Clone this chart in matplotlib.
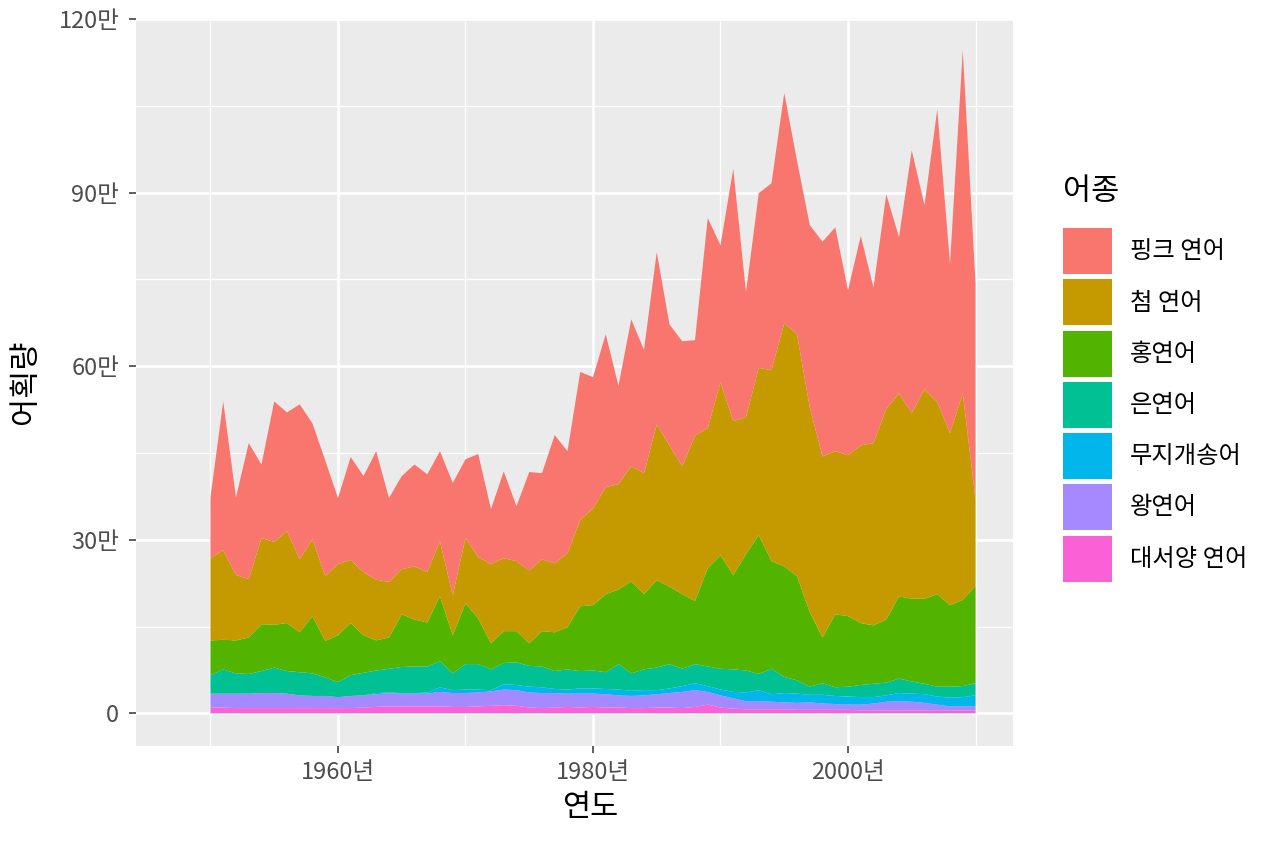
import matplotlib
matplotlib.use("Agg")
import matplotlib.pyplot as plt
from matplotlib.patches import Rectangle
from matplotlib.ticker import FuncFormatter, MultipleLocator
import numpy as np

plt.rcParams['font.family'] = ['Noto Sans CJK KR', 'DejaVu Sans']

years = np.arange(1950, 2011)

# catches in thousands
atlantic = [10, 10, 9, 9, 9, 9, 9, 9, 9, 9, 9, 9, 10,
            11, 12, 12, 12, 12, 12, 11, 11, 12, 13, 14, 13, 10,
            9, 10, 11, 10, 11, 10, 10, 9, 9, 10, 10, 9, 11,
            15, 10, 8, 7, 7, 7, 7, 6, 6, 6, 6, 6, 5,
            5, 5, 5, 5, 5, 5, 5, 5, 5]
chinook = [24, 24, 25, 25, 26, 26, 25, 22, 21, 21, 19, 21, 21,
           22, 23, 22, 22, 22, 25, 24, 24, 24, 25, 27, 27, 26,
           26, 25, 23, 24, 23, 23, 21, 21, 22, 23, 25, 28, 29,
           22, 21, 18, 14, 14, 13, 12, 12, 13, 11, 10, 9, 10,
           12, 15, 16, 15, 13, 10, 7, 7, 7]
rainbow = [0, 0, 0, 0, 0, 0, 0, 0, 0, 0, 0, 0, 0,
           2, 1, 1, 1, 2, 8, 5, 6, 5, 2, 9, 9, 10,
           10, 7, 7, 9, 9, 9, 10, 9, 9, 7, 8, 10, 12,
           10, 10, 11, 15, 19, 13, 16, 16, 13, 15, 14, 14, 13,
           11, 11, 14, 14, 15, 14, 15, 16, 19]
coho = [32, 42, 35, 34, 38, 44, 39, 40, 39, 32, 26, 36, 39,
        39, 41, 45, 46, 45, 45, 29, 44, 44, 36, 37, 39, 36,
        36, 31, 35, 30, 31, 29, 44, 30, 36, 39, 42, 30, 33,
        34, 36, 39, 38, 28, 44, 28, 23, 14, 20, 15, 17, 21,
        23, 22, 25, 21, 18, 17, 19, 19, 21]
sockeye = [60, 51, 57, 63, 81, 74, 83, 69, 99, 63, 81, 90, 65,
           52, 54, 91, 81, 76, 112, 66, 105, 79, 45, 55, 54, 39,
           61, 67, 73, 112, 113, 135, 129, 159, 130, 151, 134, 129, 109,
           170, 196, 163, 201, 240, 186, 191, 180, 129, 79, 126, 122, 107,
           101, 109, 142, 143, 147, 160, 141, 149, 168]
chum = [142, 155, 113, 101, 149, 143, 159, 126, 133, 112, 123, 109, 109,
        105, 96, 78, 92, 87, 95, 69, 113, 106, 137, 126, 121, 126,
        124, 119, 128, 149, 167, 185, 182, 199, 209, 269, 244, 221, 286,
        242, 299, 266, 237, 289, 330, 420, 418, 354, 313, 282, 278, 307,
        315, 364, 351, 321, 362, 332, 297, 357, 150]
pink = [105, 257, 134, 235, 127, 243, 205, 268, 200, 200, 114, 178, 166,
        222, 145, 161, 176, 169, 156, 194, 136, 178, 95, 150, 95, 170,
        149, 222, 176, 256, 227, 264, 170, 254, 213, 298, 209, 216, 165,
        363, 237, 436, 216, 302, 323, 398, 300, 315, 371, 387, 285, 362,
        269, 371, 270, 454, 318, 506, 293, 593, 373]

# bottom to top of the stack
species = ['대서양 연어', '왕연어', '무지개송어', '은연어', '홍연어', '첨 연어', '핑크 연어']
colors = ['#FB61D7', '#A58AFF', '#00B6EB', '#00C094', '#53B400', '#C49A00', '#F8766D']
series = [atlantic, chinook, rainbow, coho, sockeye, chum, pink]

W, H = 1264, 843
fig = plt.figure(figsize=(W / 100, H / 100), dpi=100)
ax = fig.add_axes([136 / W, 1 - 746 / H, (1013 - 136) / W, (746 - 18) / H])
ax.set_facecolor('#EBEBEB')

ax.stackplot(years, *[np.array(s) * 1000 for s in series], colors=colors, linewidth=0, zorder=3)

ax.set_xlim(1944.16, 2012.94)
ax.set_ylim(-56500, 1201700)

ax.xaxis.set_major_locator(MultipleLocator(20))
ax.xaxis.set_minor_locator(MultipleLocator(10))
ax.yaxis.set_major_locator(MultipleLocator(300000))
ax.yaxis.set_minor_locator(MultipleLocator(150000))
ax.xaxis.set_major_formatter(FuncFormatter(lambda v, p: '%d년' % v))
ax.yaxis.set_major_formatter(FuncFormatter(lambda v, p: '0' if v == 0 else '%d만' % (v / 10000)))

ax.grid(which='major', color='white', linewidth=1.9, zorder=1)
ax.grid(which='minor', color='white', linewidth=0.95, zorder=1)
ax.set_axisbelow(True)
for s in ax.spines.values():
    s.set_visible(False)

ax.tick_params(which='major', length=5, width=1.1, color='#333333',
               labelcolor='#4D4D4D', labelsize=17)
ax.tick_params(axis='y', pad=7)
ax.tick_params(axis='x', pad=6)
ax.tick_params(which='minor', length=0)

ax.set_xlabel('연도', fontsize=22)
ax.set_ylabel('어획량', fontsize=22)
ax.xaxis.label.set_va('center')
ax.yaxis.label.set_va('center')
ax.xaxis.set_label_coords((590 - 136) / 877, (746 - 808) / 728)
ax.yaxis.set_label_coords((26 - 136) / 877, 0.5)

# legend drawn by hand so the keys come out as big as ggplot's, top layer first
fig.text(1063 / W, 1 - 192 / H, '어종', fontsize=22, va='center', ha='left')
for i, (name, col) in enumerate(zip(species[::-1], colors[::-1])):
    top = 228.3 + 51.2 * i
    fig.add_artist(Rectangle((1063 / W, 1 - (top + 46) / H), 49 / W, 46 / H,
                             transform=fig.transFigure, facecolor=col, edgecolor='none'))
    fig.text(1130 / W, 1 - (top + 23) / H, name, fontsize=17.5, va='center', ha='left')

fig.savefig('out.png', dpi=100)
